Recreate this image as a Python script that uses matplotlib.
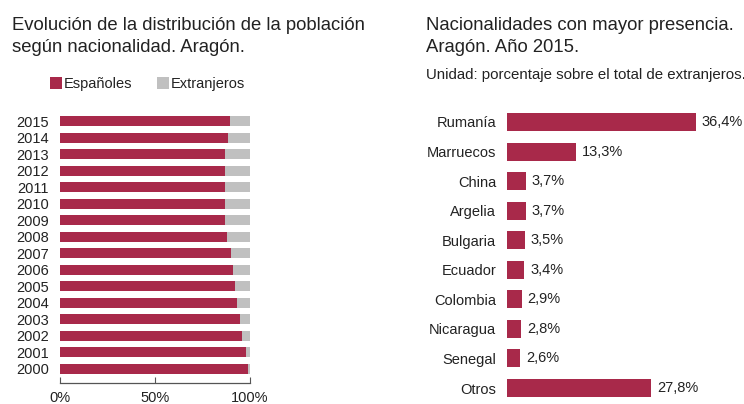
import matplotlib
matplotlib.use("Agg")
import matplotlib.pyplot as plt

plt.rcParams['font.family'] = ['Liberation Sans', 'DejaVu Sans']

# ---- data ----
years = [2000, 2001, 2002, 2003, 2004, 2005, 2006, 2007, 2008, 2009, 2010, 2011, 2012, 2013, 2014, 2015]
espanoles = [99.1, 97.7, 95.8, 94.6, 93.2, 91.9, 91.2, 90.0, 88.1, 86.9, 86.9, 86.9, 86.9, 86.9, 88.6, 89.3]
extranjeros = [0.9, 2.3, 4.2, 5.4, 6.8, 8.1, 8.8, 10.0, 11.9, 13.1, 13.1, 13.1, 13.1, 13.1, 11.4, 10.7]
x_ticks = [0, 50, 100]
x_tick_labels = ['0%', '50%', '100%']

nacionalidades = ['Rumanía', 'Marruecos', 'China', 'Argelia', 'Bulgaria', 'Ecuador',
                  'Colombia', 'Nicaragua', 'Senegal', 'Otros']
porcentajes = [36.4, 13.3, 3.7, 3.7, 3.5, 3.4, 2.9, 2.8, 2.6, 27.8]

RED = '#A8294A'
GRAY = '#C0C0C0'
TXT = '#222222'

W, H = 744, 404
fig = plt.figure(figsize=(W / 100, H / 100), dpi=100)

def fx(px):
    return px / W

def fy(py):
    return (H - py) / H

# ---- titles ----
TS = 13.3
fig.text(fx(12), fy(25), 'Evolución de la distribución de la población', fontsize=TS, color=TXT, va='center', ha='left')
fig.text(fx(12), fy(47), 'según nacionalidad. Aragón.', fontsize=TS, color=TXT, va='center', ha='left')
fig.text(fx(425.5), fy(25), 'Nacionalidades con mayor presencia.', fontsize=TS, color=TXT, va='center', ha='left')
fig.text(fx(425.5), fy(47), 'Aragón. Año 2015.', fontsize=TS, color=TXT, va='center', ha='left')
fig.text(fx(425.5), fy(75), 'Unidad: porcentaje sobre el total de extranjeros.', fontsize=10.8, color=TXT, va='center', ha='left')

# ---- left chart ----
ax1 = fig.add_axes([fx(60), fy(383), fx(250) - fx(60), fy(112) - fy(383)])
ypos = list(range(len(years)))
b1 = ax1.barh(ypos, espanoles, height=0.6, color=RED, label='Españoles')
b2 = ax1.barh(ypos, extranjeros, left=espanoles, height=0.6, color=GRAY, label='Extranjeros')
ax1.set_xlim(0, 100)
ax1.set_ylim(-0.85, 15.55)
ax1.set_yticks(ypos)
ax1.set_yticklabels([str(y) for y in years], fontsize=10.5, color=TXT)
ax1.tick_params(axis='y', length=0, pad=8)
ax1.set_xticks(x_ticks)
ax1.set_xticklabels(x_tick_labels, fontsize=10.5, color=TXT)
ax1.tick_params(axis='x', direction='in', length=4.3, color='#555555', pad=6)
for s in ['top', 'right', 'left']:
    ax1.spines[s].set_visible(False)
ax1.spines['bottom'].set_color('#555555')
ax1.spines['bottom'].set_linewidth(0.9)

fig.legend(handles=[b1, b2], labels=['Españoles', 'Extranjeros'], loc='center left',
           bbox_to_anchor=(fx(50), fy(84)), ncol=2, frameon=False, fontsize=10.5,
           handlelength=0.82, handleheight=0.82, handletextpad=0.1, columnspacing=1.75,
           borderpad=0, borderaxespad=0, labelcolor=TXT)

# ---- right chart ----
px_per_unit = (695.7 - 506.7) / 36.4
ax2_w = 230
ax2 = fig.add_axes([fx(506.7), fy(400), fx(ax2_w), fy(107) - fy(400)])
ypos2 = list(range(len(nacionalidades)))
ax2.barh(ypos2, porcentajes, height=0.61, color=RED)
ax2.set_xlim(0, ax2_w / px_per_unit)
ax2.set_ylim(9.405, -0.507)
ax2.set_yticks(ypos2)
ax2.set_yticklabels(nacionalidades, fontsize=10.5, color=TXT)
ax2.tick_params(axis='y', length=0, pad=7.7)
ax2.set_xticks([])
for s in ax2.spines.values():
    s.set_visible(False)
for y, v in zip(ypos2, porcentajes):
    ax2.annotate(f'{v:.1f}%'.replace('.', ','), xy=(v, y), xytext=(4.2, 0),
                 textcoords='offset points', va='center', ha='left',
                 fontsize=10.5, color=TXT, annotation_clip=False)

fig.savefig('out.png', dpi=100)
